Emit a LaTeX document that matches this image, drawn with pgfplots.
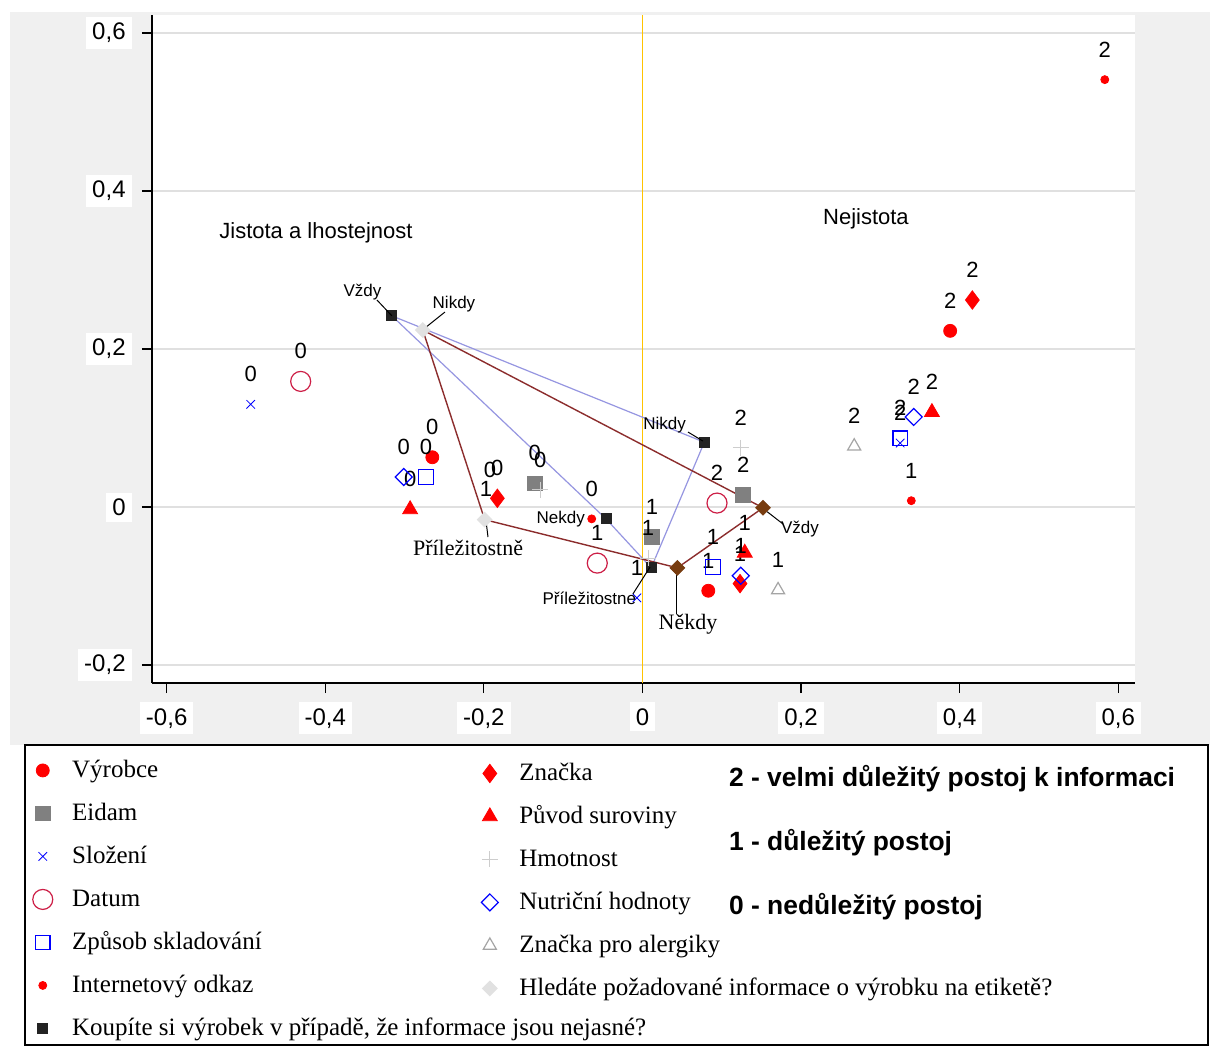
\documentclass[border=0pt]{standalone}
\usepackage{fontspec}
\setmainfont{Liberation Serif}
\setsansfont{Liberation Sans}
\usepackage{pgfplots}
\pgfplotsset{compat=1.18}
\usetikzlibrary{plotmarks}
\definecolor{bgray}{RGB}{240,240,240}
\definecolor{cred}{RGB}{255,0,0}
\definecolor{cblue}{RGB}{0,0,255}
\definecolor{cdatum}{RGB}{205,30,70}
\definecolor{ceidam}{RGB}{128,128,128}
\definecolor{chmot}{RGB}{205,205,205}
\definecolor{caler}{RGB}{165,165,165}
\definecolor{ckoup}{RGB}{35,35,35}
\definecolor{lblue}{RGB}{150,150,225}
\definecolor{lbrown}{RGB}{140,45,45}
\definecolor{dbrown}{RGB}{120,60,15}
\definecolor{chled}{RGB}{225,225,225}
\definecolor{cyel}{RGB}{255,195,0}
\newcommand{\numfont}{\sffamily\fontsize{11}{12}\selectfont}
\newcommand{\callfont}{\sffamily\fontsize{8.5}{10}\selectfont}
\newcommand{\callser}{\rmfamily\fontsize{11}{12}\selectfont}
\pgfplotsset{
  common/.style={
    scale only axis, width=491.5pt, height=334pt,
    at={(76pt,-341.5pt)}, anchor=south west,
    xmin=-0.6185, xmax=0.6211, ymin=-0.2228, ymax=0.6228,
    clip=false,
    legend cell align=left,
    legend image code/.code={\path (-5pt,0pt) (13.5pt,0pt); \draw[##1] plot coordinates {(0pt,0pt)};},
  },
  lab/.style={nodes near coords, point meta=explicit symbolic,
    every node near coord/.append style={anchor=center, yshift=15pt, font=\numfont, text=black}},
  legsty/.style={draw=none, fill=none, inner sep=0pt,
    font=\rmfamily\fontsize{12.5}{14}\selectfont, row sep=6.5pt,
    nodes={inner sep=1pt, text height=10pt, text depth=3pt}},
}
\begin{document}
\begin{tikzpicture}
\path[use as bounding box] (0,0) rectangle (605pt,-523pt);
\fill[bgray] (5pt,-6pt) rectangle (605pt,-372.5pt);
\draw[black, line width=0.8pt, fill=white] (12.5pt,-372.5pt) rectangle (604pt,-522.6pt);

\begin{axis}[common,
  axis background/.style={fill=white},
  axis x line=bottom, axis y line=left, axis line style={-, line width=0.8pt},
  tick align=outside, major tick length=5pt, tick style={black, line width=0.6pt},
  ymajorgrids, major grid style={draw=black!12, line width=0.8pt},
  xtick={-0.6,-0.4,-0.2,0,0.2,0.4,0.6},
  xticklabels={{-0,6},{-0,4},{-0,2},{0},{0,2},{0,4},{0,6}},
  ytick={-0.2,0,0.2,0.4,0.6},
  yticklabels={{-0,2},{0},{0,2},{0,4},{0,6}},
  tick label style={font=\sffamily\fontsize{12}{14}\selectfont, fill=white, inner sep=3pt},
  xticklabel style={yshift=-4.5pt},
  yticklabel style={xshift=-5pt},
  legend style={legsty, at={(-0.1221,-0.1078)}, anchor=north west},
]
\addplot[forget plot, color=cyel, line width=0.9pt] coordinates {(0,-0.2228) (0,0.6228)};
\addplot[forget plot, color=lblue, line width=0.6pt] coordinates {(-0.316,0.242) (0.078,0.082) (0.011,-0.077) (-0.046,-0.015) (-0.316,0.242)};
\addplot[forget plot, color=lbrown, line width=0.7pt] coordinates {(-0.277,0.224) (-0.199,-0.016) (0.044,-0.077) (0.152,-0.001) (-0.277,0.224)};
% Vyrobce
\addplot[only marks, mark=*, color=cred, mark size=3.25pt, lab] coordinates {(0.388,0.223)[2] (0.083,-0.106)[1] (-0.265,0.063)[0]};
\addlegendentry{Výrobce}
% Eidam
\addplot[only marks, mark=square*, color=ceidam, mark size=3.7pt, lab] coordinates {(0.127,0.015)[2] (0.012,-0.038)[1] (-0.136,0.030)[0]};
\addlegendentry{Eidam}
% Slozeni
\addplot[only marks, mark=x, color=cblue, mark size=3pt, lab] coordinates {(0.325,0.081)[2] (-0.007,-0.115)[1] (-0.494,0.130)[0]};
\addlegendentry{Složení}
% Datum
\addplot[only marks, mark=o, color=cdatum, mark size=5pt, mark options={line width=0.6pt}, lab] coordinates {(0.094,0.005)[2] (-0.057,-0.071)[1] (-0.431,0.159)[0]};
\addlegendentry{Datum}
% Zpusob skladovani
\addplot[only marks, mark=square, color=cblue, mark size=3.6pt, mark options={line width=0.6pt}, lab] coordinates {(0.325,0.087)[2] (0.089,-0.076)[1] (-0.273,0.038)[0]};
\addlegendentry{Způsob skladování}
% Internetovy odkaz
\addplot[only marks, mark=*, color=cred, mark size=2pt, lab] coordinates {(0.583,0.541)[2] (0.339,0.008)[1] (-0.064,-0.015)[0]};
\addlegendentry{Internetový odkaz}
% Koupite
\addplot[only marks, mark=square*, color=ckoup, mark size=2.5pt] coordinates {(-0.316,0.242) (0.078,0.082) (-0.046,-0.015) (0.011,-0.077)};
\addlegendentry{Koupíte si výrobek v případě, že informace jsou nejasné?}
\end{axis}

\begin{axis}[common, hide axis,
  legend style={legsty, at={(0.3327,-0.1123)}, anchor=north west},
]
% Znacka
\addplot[only marks, mark=diamond*, color=cred, mark size=4.6pt, lab] coordinates {(0.416,0.262)[2] (0.123,-0.097)[1] (-0.183,0.011)[0]};
\addlegendentry{Značka}
% Puvod suroviny
\addplot[only marks, mark=triangle*, color=cred, mark size=4.3pt, lab] coordinates {(0.365,0.120)[2] (0.129,-0.058)[1] (-0.293,-0.003)[0]};
\addlegendentry{Původ suroviny}
% Hmotnost
\addplot[only marks, mark=+, color=chmot, mark size=4pt, lab] coordinates {(0.124,0.075)[2] (0.007,-0.065)[1] (-0.129,0.022)[0]};
\addlegendentry{Hmotnost}
% Nutricni hodnoty
\addplot[only marks, mark=square, color=cblue, mark size=3pt, mark options={rotate=45, line width=0.6pt}, lab] coordinates {(0.342,0.114)[2] (0.124,-0.087)[1] (-0.301,0.038)[0]};
\addlegendentry{Nutriční hodnoty}
% Znacka pro alergiky
\addplot[only marks, mark=triangle, color=caler, mark size=3.75pt, mark options={line width=0.6pt}, lab] coordinates {(0.267,0.077)[2] (0.171,-0.105)[1]};
\addlegendentry{Značka pro alergiky}
% Hledate
\addplot[only marks, mark=square*, color=chled, mark size=2.6pt, mark options={rotate=45}] coordinates {(-0.277,0.224) (-0.199,-0.016) (0.044,-0.077) (0.152,-0.001)};
\addlegendentry{Hledáte požadované informace o výrobku na etiketě?}
\addplot[forget plot, only marks, mark=square*, color=dbrown, mark size=2.6pt, mark options={rotate=45}] coordinates {(0.044,-0.077) (0.152,-0.001)};
% leader lines
\addplot[forget plot, black, line width=0.5pt] coordinates {(-0.3348,0.262) (-0.316,0.242)};
\addplot[forget plot, black, line width=0.5pt] coordinates {(-0.2491,0.2468) (-0.2743,0.2266)};
\addplot[forget plot, black, line width=0.5pt] coordinates {(0.0574,0.0949) (0.0762,0.0835)};
\addplot[forget plot, black, line width=0.5pt] coordinates {(-0.1948,-0.038) (-0.1973,-0.0177)};
\addplot[forget plot, black, line width=0.5pt] coordinates {(-0.012,-0.110) (0.0095,-0.076)};
\addplot[forget plot, black, line width=0.5pt] coordinates {(0.0435,-0.077) (0.0435,-0.1354)};
\addplot[forget plot, black, line width=0.5pt] coordinates {(0.1545,-0.0038) (0.1772,-0.0215)};
% callouts
\node[font=\callfont] at (axis cs:-0.353,0.272) {Vždy};
\node[font=\callfont] at (axis cs:-0.2377,0.257) {Nikdy};
\node[font=\callfont] at (axis cs:0.028,0.104) {Nikdy};
\node[font=\callfont, fill=white, inner sep=1pt] at (axis cs:-0.103,-0.015) {Nekdy};
\node[font=\callser, fill=white, inner sep=1pt] at (axis cs:-0.220,-0.052) {Příležitostně};
\node[font=\callfont] at (axis cs:-0.067,-0.115) {Příležitostne};
\node[font=\callser] at (axis cs:0.0574,-0.149) {Někdy};
\node[font=\callfont] at (axis cs:0.1986,-0.028) {Vždy};
\node[font=\numfont] at (axis cs:-0.1974,0.0228) {1};
\node[font=\numfont] at (axis cs:-0.1923,0.0468) {0};
\node[font=\sffamily\fontsize{11}{13}\selectfont] at (axis cs:-0.4117,0.347) {Jistota a lhostejnost};
\node[font=\sffamily\fontsize{11}{13}\selectfont] at (axis cs:0.2818,0.3646) {Nejistota};
\end{axis}

\node[anchor=west, font=\sffamily\bfseries\fontsize{13.2}{15}\selectfont] at (361pt,-389.5pt) {2 - velmi důležitý postoj k informaci};
\node[anchor=west, font=\sffamily\bfseries\fontsize{13.2}{15}\selectfont] at (361pt,-421.5pt) {1 - důležitý postoj};
\node[anchor=west, font=\sffamily\bfseries\fontsize{13.2}{15}\selectfont] at (361pt,-453.5pt) {0 - nedůležitý postoj};
\end{tikzpicture}
\end{document}
